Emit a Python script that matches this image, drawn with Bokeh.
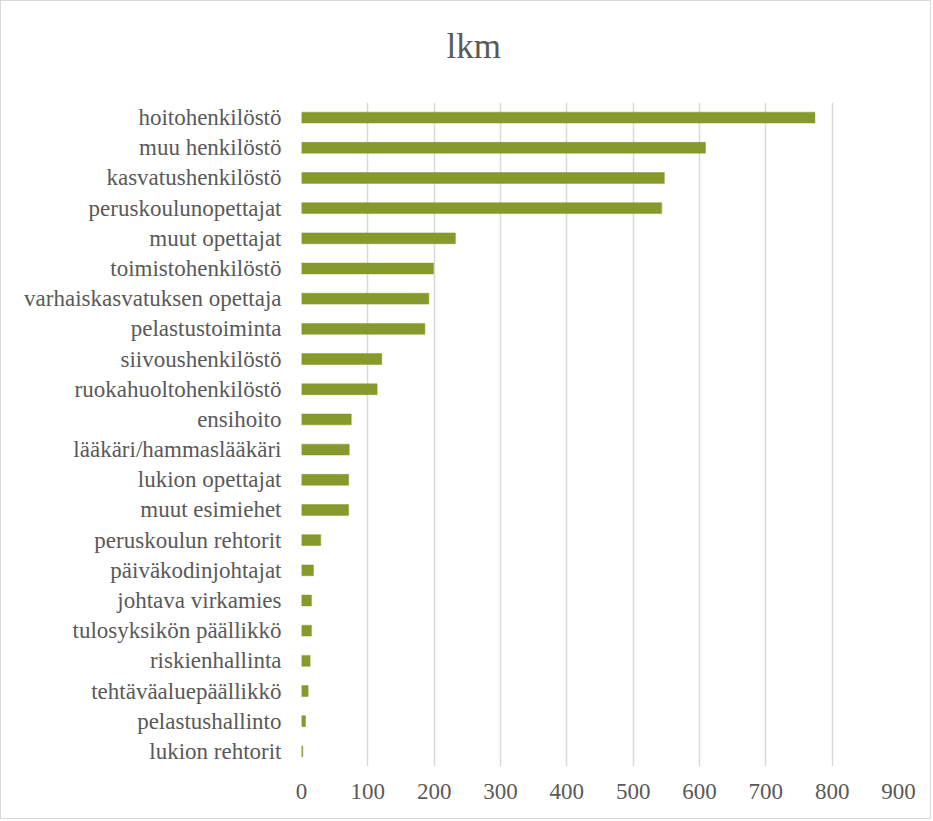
from bokeh.plotting import figure
from bokeh.models import Range1d, FactorRange, ColumnDataSource, FixedTicker, Title
from bokeh.embed import file_html
from bokeh.resources import INLINE

categories = [
    "hoitohenkilöstö", "muu henkilöstö", "kasvatushenkilöstö", "peruskoulunopettajat",
    "muut opettajat", "toimistohenkilöstö", "varhaiskasvatuksen opettaja", "pelastustoiminta",
    "siivoushenkilöstö", "ruokahuoltohenkilöstö", "ensihoito", "lääkäri/hammaslääkäri",
    "lukion opettajat", "muut esimiehet", "peruskoulun rehtorit", "päiväkodinjohtajat",
    "johtava virkamies", "tulosyksikön päällikkö", "riskienhallinta", "tehtäväaluepäällikkö",
    "pelastushallinto", "lukion rehtorit",
]
values = [774, 609, 547, 543, 232, 199, 192, 186, 121, 114, 75, 72, 71, 71, 29, 18, 15, 15, 13, 10, 6, 2]
x_ticks = [0, 100, 200, 300, 400, 500, 600, 700, 800, 900]
title_text = "lkm"

FONT = "Liberation Serif"
TEXT_COLOR = "#595959"
BAR_COLOR = "#86992d"

source = ColumnDataSource(data=dict(cat=categories, val=values))

p = figure(
    width=931, height=819, title=None,
    y_range=FactorRange(*list(reversed(categories))),
    x_range=Range1d(0, 900),
    output_backend="svg", toolbar_location=None,
    min_border_left=300, min_border_right=34, min_border_top=101, min_border_bottom=54,
)

p.hbar(y="cat", right="val", left=0, height=0.36, source=source,
       fill_color=BAR_COLOR, line_color=BAR_COLOR, line_width=0.5)

# blank spacer panel between the frame and the title
spacer = Title(text=" ", text_font_size="1px", standoff=29)
p.add_layout(spacer, "above")

title = Title(text=title_text, text_font=FONT, text_font_size="35px",
              text_font_style="normal", text_color=TEXT_COLOR,
              align="left", offset=145, standoff=10, vertical_align="bottom")
p.add_layout(title, "above")

p.outline_line_color = None
p.background_fill_color = "white"
p.border_fill_color = "white"

p.ygrid.grid_line_color = None
p.xgrid.grid_line_color = "#d9d9d9"
p.xgrid.grid_line_width = 1.5
p.xaxis.ticker = FixedTicker(ticks=x_ticks)

for ax in (p.xaxis, p.yaxis):
    ax.axis_line_color = None
    ax.major_tick_line_color = None
    ax.minor_tick_line_color = None
    ax.major_tick_out = 0
    ax.major_tick_in = 0
    ax.major_label_text_font = FONT
    ax.major_label_text_font_size = "23px"
    ax.major_label_text_color = TEXT_COLOR

p.yaxis.major_label_standoff = 20
p.xaxis.major_label_standoff = 17

p.styles = {"border": "1px solid #d9d9d9"}

open("out.html", "w").write(file_html(p, INLINE))
